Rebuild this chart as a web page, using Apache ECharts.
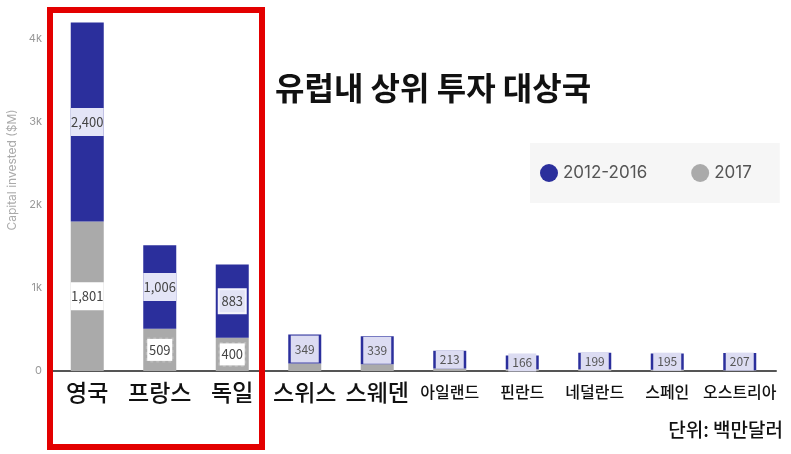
<!DOCTYPE html>
<html>
<head>
<meta charset="utf-8">
<script src="https://cdn.jsdelivr.net/npm/echarts@6/dist/echarts.min.js"></script>
<style>
  html, body { margin: 0; padding: 0; background: #fff; }
  #main { width: 791px; height: 454px; }
</style>
</head>
<body>
<div id="main"></div>
<script>
// 데이터
const categories = ['영국', '프랑스', '독일', '스위스', '스웨덴', '아일랜드', '핀란드', '네덜란드', '스페인', '오스트리아']
const values20122016 = [2400, 1006, 883, 349, 339, 213, 166, 199, 195, 207]
const values2017 = [1801, 509, 400, 90, 80, 30, 20, 20, 15, 10]
const yTicks = ['0', '1k', '2k', '3k', '4k']

const NAVY = '#2b2f9c'
const GRAY = '#aaaaaa'
const KR = 'Noto Sans CJK KR'

function fmt (p) {
  return p.value >= 1000 ? p.value.toLocaleString('en-US') : String(p.value)
}

// 2012-2016 막대 라벨
function navyLabel (i) {
  if (i < 2) {
    return { show: true, position: 'inside', formatter: fmt, backgroundColor: '#e4e5f7', width: 33, height: 28, lineHeight: 28, align: 'center', color: '#444', fontSize: 13 }
  }
  if (i === 2) {
    return { show: true, position: 'inside', formatter: fmt, backgroundColor: '#e2e3f5', borderColor: '#f4f4fb', borderWidth: 2, width: 25, height: 22, lineHeight: 22, align: 'center', color: '#444', fontSize: 13 }
  }
  const h = i < 5 ? 27 : 18
  return { show: true, position: 'inside', formatter: fmt, backgroundColor: '#dcdcf2', width: 28, height: h, lineHeight: h, align: 'center', color: '#555', fontSize: 12 }
}

// 2017 막대 라벨
function grayLabel (i) {
  if (i === 0) {
    return { show: true, position: 'inside', formatter: fmt, backgroundColor: '#ffffff', width: 33, height: 28, lineHeight: 28, align: 'center', color: '#444', fontSize: 13 }
  }
  if (i < 3) {
    return { show: true, position: 'inside', formatter: fmt, backgroundColor: '#ffffff', borderColor: '#bbbbbb', borderType: 'dotted', borderWidth: 1.5, width: 25, height: 22, lineHeight: 22, align: 'center', color: '#444', fontSize: 13 }
  }
  return { show: false }
}

const navyData = values20122016.map((v, i) => ({ value: v, label: navyLabel(i) }))
const grayData = values2017.map((v, i) => ({ value: v, label: grayLabel(i) }))

const chart = echarts.init(document.getElementById('main'))
const option = {
  animation: false,
  textStyle: { fontFamily: KR },
  title: {
    text: '유럽내 상위 투자 대상국',
    left: 270,
    top: 67,
    textStyle: { fontSize: 32, fontWeight: 'bold', color: '#111', fontFamily: KR }
  },
  legend: {
    data: ['2012-2016', '2017'],
    left: 530,
    top: 143,
    icon: 'circle',
    itemWidth: 18,
    itemHeight: 18,
    itemGap: 44,
    padding: [21, 28, 21, 10],
    backgroundColor: '#f6f6f6',
    textStyle: { fontSize: 17, color: '#555', fontFamily: 'Inter' }
  },
  grid: { left: 51, right: 15, top: 6, bottom: 83 },
  xAxis: {
    type: 'category',
    data: categories,
    axisLine: { lineStyle: { color: '#555', width: 2 } },
    axisTick: { show: false },
    axisLabel: {
      margin: 6,
      interval: 0,
      formatter: function (v, i) {
        return i < 5 ? '{big|' + v + '}' : '{small|' + v + '}'
      },
      rich: {
        big: { fontSize: 23, fontWeight: 500, color: '#111', fontFamily: KR, lineHeight: 30 },
        small: { fontSize: 16, fontWeight: 500, color: '#111', fontFamily: KR, lineHeight: 30 }
      }
    }
  },
  yAxis: {
    type: 'value',
    min: 0,
    max: 4400,
    interval: 1000,
    axisLine: { show: false },
    axisTick: { show: false },
    splitLine: { show: false },
    axisLabel: {
      margin: 9,
      fontSize: 11,
      color: '#999',
      fontFamily: 'Inter',
      formatter: function (v) {
        return v % 1000 === 0 ? yTicks[v / 1000] : ''
      }
    }
  },
  series: [
    {
      name: '2017',
      type: 'bar',
      stack: 'total',
      barWidth: 33,
      itemStyle: { color: GRAY },
      data: grayData
    },
    {
      name: '2012-2016',
      type: 'bar',
      stack: 'total',
      barWidth: 33,
      itemStyle: { color: NAVY },
      data: navyData
    }
  ],
  graphic: [
    {
      type: 'rect',
      shape: { x: 50, y: 10, width: 212, height: 437 },
      style: { fill: 'none', stroke: '#e30000', lineWidth: 6 },
      z: 100
    },
    {
      type: 'text',
      x: 12,
      y: 170,
      rotation: Math.PI / 2,
      style: { text: 'Capital invested ($M)', fontSize: 12, fill: '#aaa', fontFamily: 'Inter', align: 'center', verticalAlign: 'middle' }
    },
    {
      type: 'text',
      right: 8,
      top: 420,
      style: { text: '단위: 백만달러', fontSize: 19, fontWeight: 500, fill: '#111', fontFamily: KR }
    }
  ]
}
chart.setOption(option)
</script>
</body>
</html>
